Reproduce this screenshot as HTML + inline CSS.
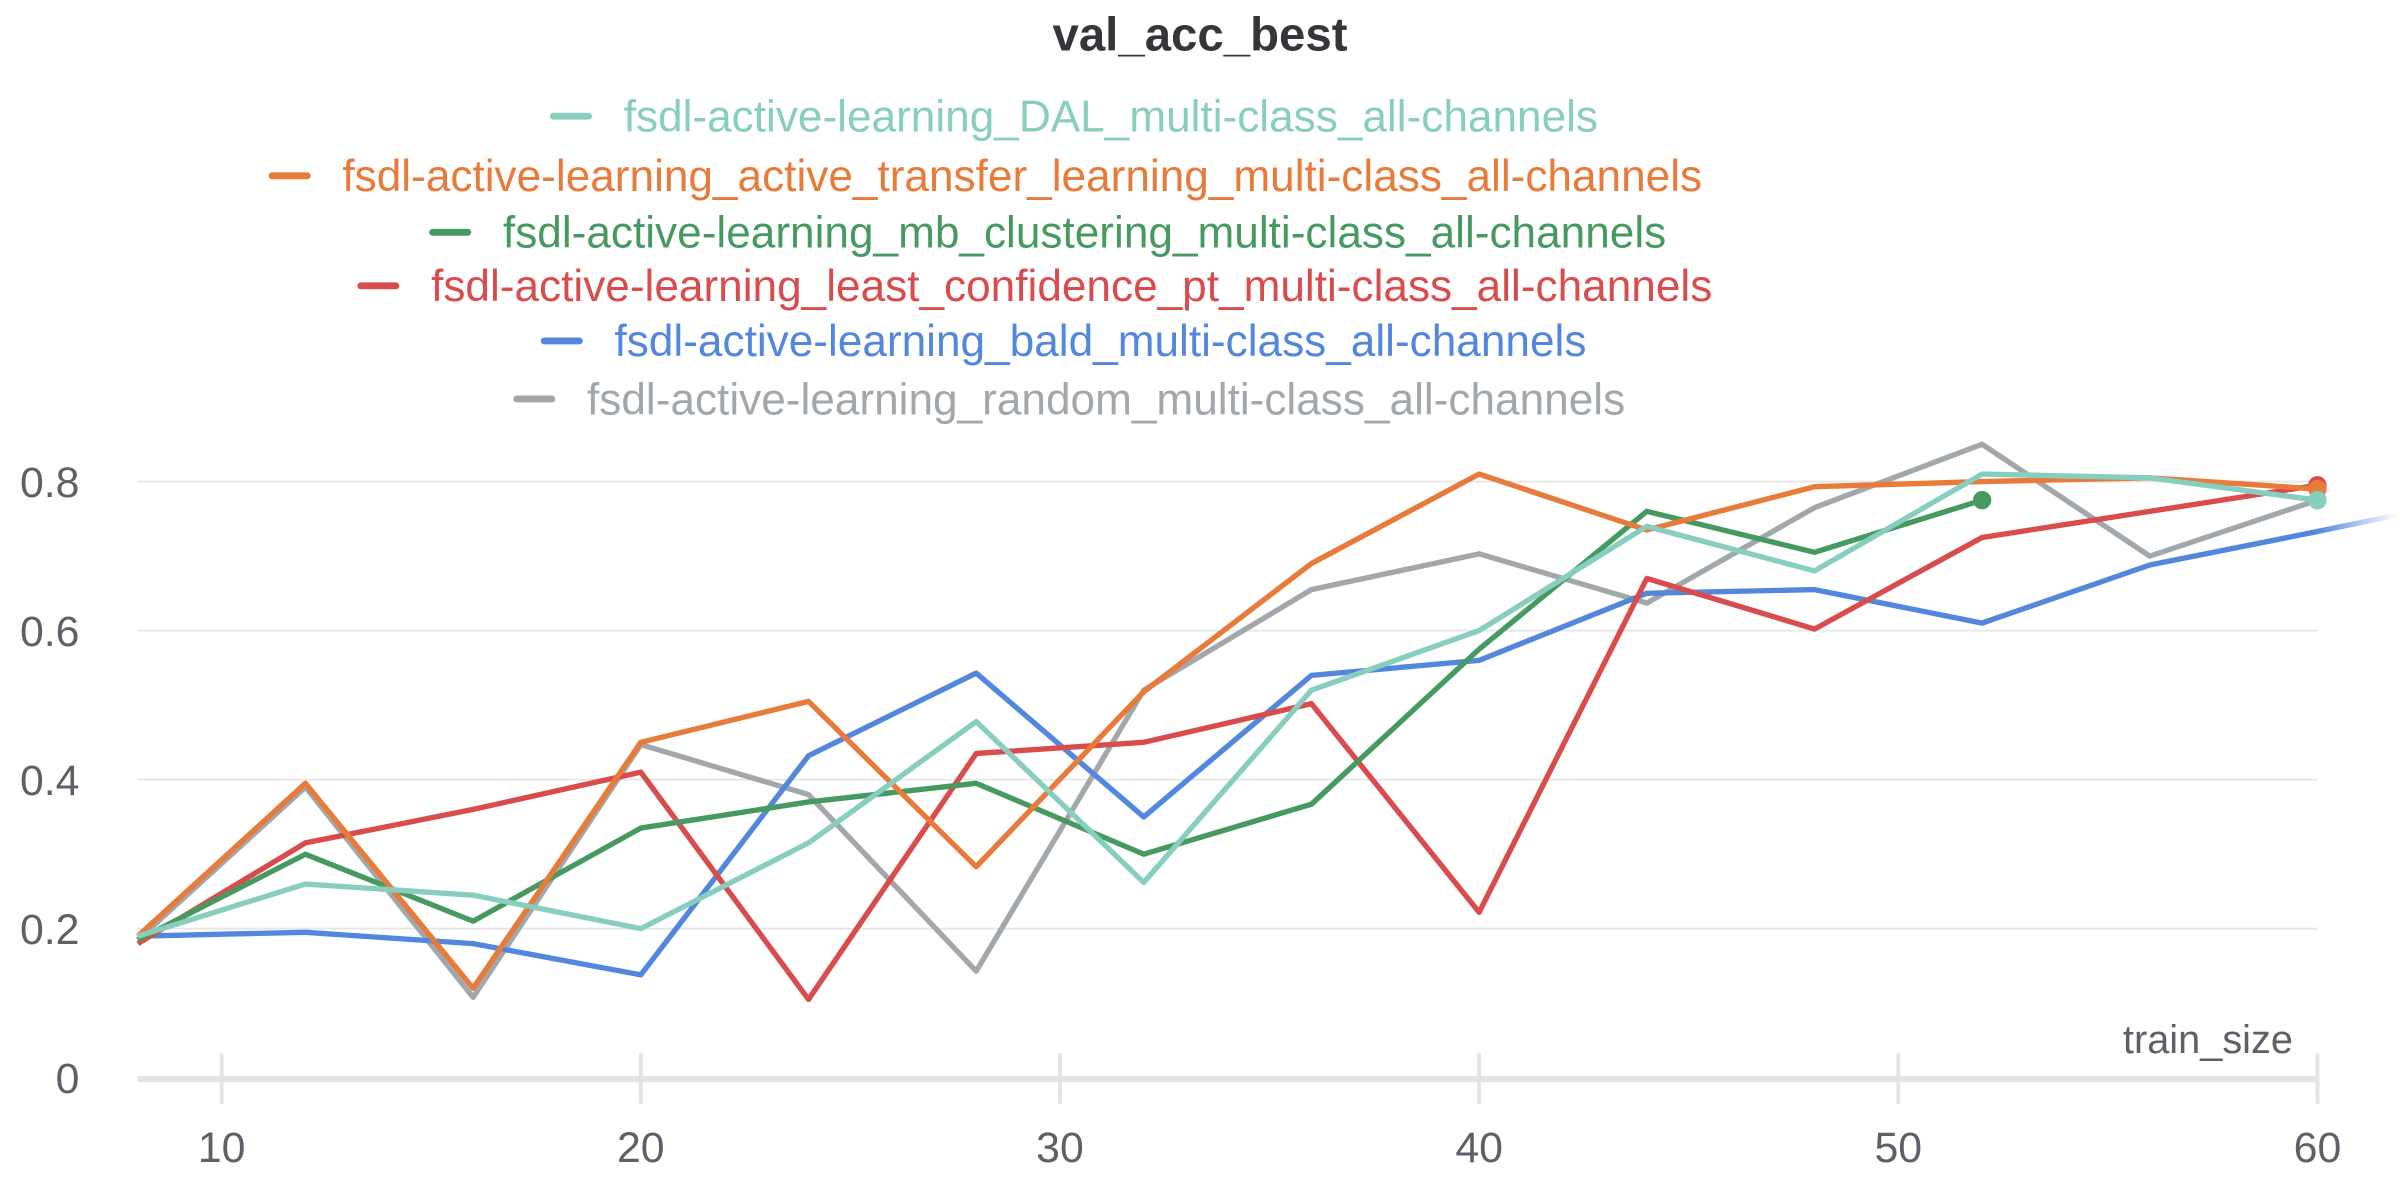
<!DOCTYPE html>
<html><head><meta charset="utf-8"><style>
html,body{margin:0;padding:0;background:#fff;}
svg{display:block;font-family:"Liberation Sans",Arial,sans-serif;}
</style></head><body>
<svg id="chart" width="2400" height="1200" viewBox="0 0 1570 785" xmlns="http://www.w3.org/2000/svg">
<defs>
<linearGradient id="fade" x1="0" x2="1" y1="0" y2="0"><stop offset="0" stop-color="#5387dd" stop-opacity="1"/><stop offset="1" stop-color="#5387dd" stop-opacity="0"/></linearGradient>
</defs>
<text x="785" y="33" text-anchor="middle" font-size="31" font-weight="bold" fill="#35353a">val_acc_best</text>
<g id="legend"></g>
<g id="grid"></g>
<g id="axes"></g>
<g id="series"></g>
</svg>
<script>
const xs = [8,12,16,20,24,28,32,36,40,44,48,52,56,60];
const names = ["fsdl-active-learning_DAL_multi-class_all-channels","fsdl-active-learning_active_transfer_learning_multi-class_all-channels","fsdl-active-learning_mb_clustering_multi-class_all-channels","fsdl-active-learning_least_confidence_pt_multi-class_all-channels","fsdl-active-learning_bald_multi-class_all-channels","fsdl-active-learning_random_multi-class_all-channels"];
const colors = ["#87cebf","#e87a3a","#479a5f","#da4c4c","#5387dd","#a1a7ab"];
const dal = [0.19,0.26,0.245,0.20,0.315,0.478,0.262,0.52,0.60,0.74,0.68,0.81,0.805,0.775];
const atl = [0.19,0.395,0.12,0.45,0.505,0.283,0.518,0.69,0.81,0.735,0.793,0.80,0.805,0.79];
const mbc = [0.185,0.30,0.21,0.335,0.37,0.395,0.30,0.367,0.575,0.76,0.705,0.775];
const lc = [0.18,0.315,0.36,0.41,0.105,0.435,0.45,0.502,0.222,0.67,0.602,0.725,0.76,0.795];
const bald = [0.19,0.195,0.18,0.138,0.432,0.543,0.35,0.54,0.56,0.65,0.655,0.61,0.688,0.733];
const rnd = [0.185,0.39,0.108,0.447,0.38,0.143,0.52,0.655,0.703,0.637,0.765,0.85,0.70,0.775];
const series = [dal,atl,mbc,lc,bald,rnd];
const xTicks = [10,20,30,40,50,60];
const yTicks = [0,0.2,0.4,0.6,0.8];
const yTickLabels = ["0","0.2","0.4","0.6","0.8"];
const NS="http://www.w3.org/2000/svg";
function X(v){return 145+(v-10)*27.42;}
function Y(v){return 705-v*487.5;}
function mk(tag,attrs,parent){const e=document.createElementNS(NS,tag);for(const k in attrs)e.setAttribute(k,attrs[k]);parent.appendChild(e);return e;}
const grid=document.getElementById('grid'),axes=document.getElementById('axes'),ser=document.getElementById('series'),leg=document.getElementById('legend');
yTicks.forEach((t,i)=>{
  if(t>0){const g=mk('line',{x1:90,x2:1516,y1:Y(t),y2:Y(t),stroke:'#e6e6e6','stroke-width':1.2},grid);
  
  }
  const tx=mk('text',{x:52,y:Y(t)+10,'text-anchor':'end','font-size':28,fill:'#5f5f6a'},axes);
  tx.textContent=yTickLabels[i];
  
  
});
const base=mk('line',{x1:90,x2:1516,y1:706,y2:706,stroke:'#e3e3e3','stroke-width':4},axes);


xTicks.forEach(t=>{
  const l=mk('line',{x1:X(t),x2:X(t),y1:689,y2:722,stroke:'#e3e3e3','stroke-width':2.5},axes);
  
  
  const tx=mk('text',{x:X(t),y:760,'text-anchor':'middle','font-size':28,fill:'#5f5f6a'},axes);
  tx.textContent=String(t);
  
  
});
const xt=mk('text',{x:1500,y:689,'text-anchor':'end','font-size':26,fill:'#5f5f6a'},axes);
xt.textContent='train_size';


const legY=[76,115,152,187,223,261];
const legX=[362,178,283,236,356,338];
names.forEach((n,i)=>{
  const g=mk('g',{},leg);
  
  
  mk('line',{x1:legX[i],x2:legX[i]+23,y1:legY[i],y2:legY[i],stroke:colors[i],'stroke-width':4.5,'stroke-linecap':'round'},g);
  const t=mk('text',{x:legX[i]+46,y:legY[i]+10,'font-size':28.9,fill:colors[i]},g);
  t.textContent=n;
});
[5,4,3,2,1,0].forEach(i=>{
  const d=series[i];
  const pts=d.map((v,j)=>X(xs[j]).toFixed(1)+','+Y(v).toFixed(1)).join(' ');
  const p=mk('polyline',{points:pts,fill:'none',stroke:colors[i],'stroke-width':3.5,'stroke-linejoin':'round'},ser);
  
  
  if(i===4){
    const last=d[d.length-1];
    const f=mk('line',{x1:X(60),y1:Y(last),x2:X(61.9),y2:Y(last+0.022),stroke:'url(#fade)','stroke-width':3.5},ser);
    
    
  } else {
    const c=mk('circle',{cx:X(xs[d.length-1]),cy:Y(d[d.length-1]),r:6,fill:colors[i]},ser);
    
    
  }
});
</script>
</body></html>
